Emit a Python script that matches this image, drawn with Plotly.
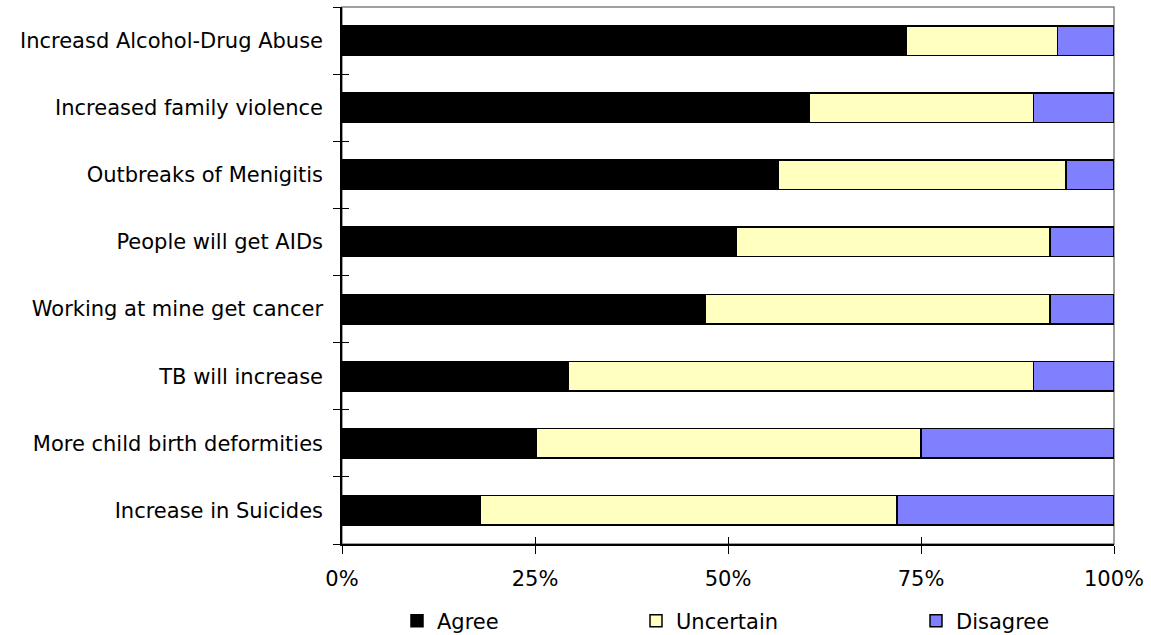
import plotly.graph_objects as go

categories = ["Increasd Alcohol-Drug Abuse", "Increased family violence", "Outbreaks of Menigitis",
              "People will get AIDs", "Working at mine get cancer", "TB will increase",
              "More child birth deformities", "Increase in Suicides"]
agree = [73.1, 60.5, 56.5, 51.1, 47.0, 29.3, 25.1, 17.9]
uncertain = [19.6, 29.1, 37.3, 40.6, 44.7, 60.3, 49.9, 54.0]
disagree = [7.3, 10.4, 6.2, 8.3, 8.3, 10.4, 25.0, 28.1]
series_names = ["Agree", "Uncertain", "Disagree"]
colors = ["#000000", "#FFFFC0", "#8080FF"]
tick_vals = [0, 25, 50, 75, 100]
tick_text = ["0%", "25%", "50%", "75%", "100%"]

FONT = "DejaVu Sans, Liberation Sans, Arial, sans-serif"
FS = 21
fig = go.Figure()
legend_ids = ["legend", "legend2", "legend3"]
for name, vals, col, lg in zip(series_names, [agree, uncertain, disagree], colors, legend_ids):
    fig.add_trace(go.Bar(y=categories, x=vals, name=name, orientation="h",
                         marker=dict(color=col, line=dict(color="#000000", width=1.5)),
                         legend=lg))
# helper trace for inner tick overlay axes
fig.add_trace(go.Scatter(x=[None] * len(categories), y=categories, xaxis="x2", yaxis="y2",
                         showlegend=False, hoverinfo="skip", mode="markers"))

cat_order = list(reversed(categories))
fig.update_layout(
    width=1151, height=635,
    margin=dict(l=342, r=37, t=7, b=91, autoexpand=False),
    barmode="stack", bargap=0.56,
    paper_bgcolor="white", plot_bgcolor="white",
    font=dict(family=FONT, size=FS, color="#000000"),
    xaxis=dict(range=[0, 100], tickvals=tick_vals, ticktext=tick_text, ticks="outside",
               ticklen=8, tickwidth=1, tickcolor="#000000", showgrid=False, zeroline=False,
               showline=True, linecolor="#000000", linewidth=1.5, automargin=False,
               tickfont=dict(family=FONT, size=FS), ticklabelstandoff=7),
    xaxis2=dict(range=[0, 100], tickvals=tick_vals, ticks="inside", ticklen=7, tickwidth=1,
                tickcolor="#000000", showticklabels=False, showgrid=False, zeroline=False,
                overlaying="x", side="bottom", showline=False),
    yaxis=dict(categoryorder="array", categoryarray=cat_order, range=[-0.5, 7.5],
               ticks="outside", tickson="boundaries", ticklen=7, tickwidth=1, tickcolor="#000000",
               showgrid=False, zeroline=False, showline=True, linecolor="#000000", linewidth=1.5,
               automargin=False, tickfont=dict(family=FONT, size=FS), ticklabelstandoff=13),
    yaxis2=dict(categoryorder="array", categoryarray=cat_order, range=[-0.5, 7.5],
                ticks="inside", tickson="boundaries", ticklen=7, tickwidth=1, tickcolor="#000000",
                showticklabels=False, showgrid=False, zeroline=False, overlaying="y", side="left",
                showline=False),
    shapes=[dict(type="rect", xref="paper", yref="paper", x0=0, x1=1, y0=0, y1=1,
                 line=dict(color="#808080", width=1.5), layer="below")],
)
leg_common = dict(orientation="h", yanchor="middle", yref="container", y=(635 - 621) / 635,
                  xanchor="left", bgcolor="rgba(0,0,0,0)", borderwidth=0,
                  font=dict(family=FONT, size=FS), itemwidth=30, tracegroupgap=0)
fig.update_layout(
    legend=dict(x=(397 - 342) / 772, **leg_common),
    legend2=dict(x=(636 - 342) / 772, **leg_common),
    legend3=dict(x=(916 - 342) / 772, **leg_common),
)
fig.write_html("out.html")
